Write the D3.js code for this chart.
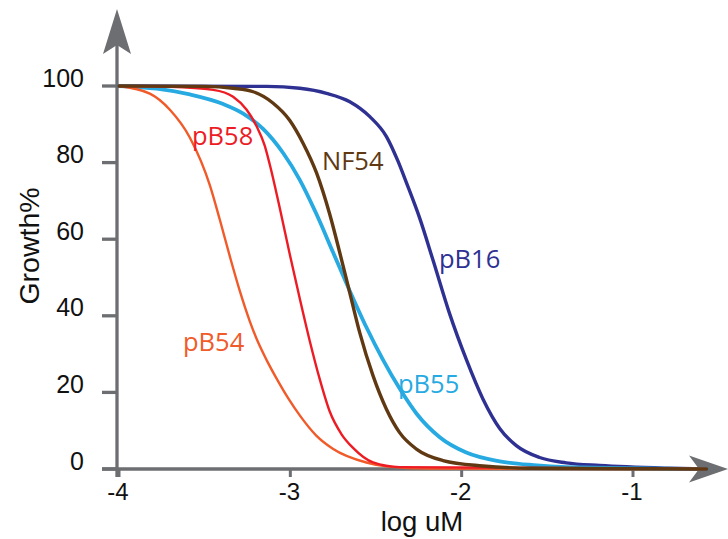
<!DOCTYPE html>
<html>
<head>
<meta charset="utf-8">
<script src="https://cdn.jsdelivr.net/npm/d3@7"></script>
<style>
  html, body { margin: 0; padding: 0; background: #ffffff; }
  svg { display: block; }
</style>
</head>
<body>
<div id="chart"></div>
<script>
// ---- Data ----
const xTicks = [-4, -3, -2, -1];
const yTicks = [0, 20, 40, 60, 80, 100];
const xTitle = "log uM";
const yTitle = "Growth%";

// log uM values / Growth% values per strain
const pB54_x = [-4, -3.82, -3.703, -3.586, -3.469, -3.411, -3.353, -3.295, -3.236, -3.197, -3.139, -3.08, -3.01, -2.945, -2.85, -2.752, -2.556, -2.44, -2.2, -0.57];
const pB54_y = [100, 98, 93.8, 86.5, 74, 65, 55.5, 46.5, 38.5, 34, 28.5, 23.6, 18.3, 14, 8.8, 5.3, 1.7, 0.7, 0.1, 0];

const pB58_x = [-4, -3.7, -3.45, -3.334, -3.255, -3.197, -3.15, -3.12, -3.061, -3.003, -2.945, -2.887, -2.828, -2.77, -2.7, -2.634, -2.517, -2.362, -0.57];
const pB58_y = [100, 99.8, 99, 97.2, 93.8, 89.5, 84.5, 79.5, 68, 56, 44.5, 33.5, 23.4, 15, 9, 5.5, 1.7, 0.5, 0];

const pB55_x = [-4, -3.78, -3.586, -3.392, -3.275, -3.159, -3.042, -2.945, -2.847, -2.75, -2.653, -2.556, -2.459, -2.362, -2.264, -2.128, -1.973, -1.778, -1.58, -1.39, -0.57];
const pB55_y = [100, 99.3, 97.8, 95.3, 92.8, 88.8, 82.5, 75.5, 66.5, 56.5, 46.5, 37, 28.5, 21, 14.5, 8.3, 4.3, 2, 1, 0.5, 0];

const NF54_x = [-4, -3.5, -3.334, -3.217, -3.1, -3.003, -2.925, -2.847, -2.77, -2.711, -2.653, -2.595, -2.517, -2.439, -2.362, -2.264, -2.109, -1.876, -1.6, -0.57];
const NF54_y = [100, 99.9, 99.4, 98.5, 95.5, 91, 85, 77.3, 66.5, 56.4, 46, 35.6, 24.3, 15.6, 9.5, 5.2, 2.2, 0.8, 0.2, 0];

const pB16_x = [-4, -3.139, -2.945, -2.789, -2.653, -2.536, -2.439, -2.371, -2.322, -2.245, -2.167, -2.07, -1.973, -1.876, -1.778, -1.681, -1.545, -1.39, -1.195, -0.8, -0.57];
const pB16_y = [100, 99.9, 99.4, 98.1, 95.9, 92, 86.8, 80.3, 74.7, 65.5, 54.5, 40.5, 28.6, 18.3, 10.6, 6.1, 3, 1.6, 0.9, 0.2, 0];

const seriesNames = ["pB16", "pB55", "pB54", "pB58", "NF54"];
const seriesX = [pB16_x, pB55_x, pB54_x, pB58_x, NF54_x];
const seriesY = [pB16_y, pB55_y, pB54_y, pB58_y, NF54_y];

// ---- Styles ----
const colors = { pB16: "#2e3192", pB55: "#27aae1", pB54: "#f15a29", pB58: "#ed1c24", NF54: "#603913" };
const widths = { pB16: 3.4, pB55: 3.8, pB54: 2.4, pB58: 2.4, NF54: 3.4 };
const labelPos = { pB58: [192, 145], NF54: [322, 170], pB16: [439, 268], pB55: [398, 393], pB54: [183, 351] };
const axisColor = "#6d6e71";

const W = 728, H = 539;
const svg = d3.select("#chart").append("svg").attr("width", W).attr("height", H);

const x = d3.scaleLinear().domain([-4, -1]).range([119, 633]);
const y = d3.scaleLinear().domain([0, 100]).range([469, 86]);

// Axes lines
const axisG = svg.append("g");
axisG.append("line").attr("x1", 102).attr("x2", 702).attr("y1", y(0)).attr("y2", y(0))
  .attr("stroke", axisColor).attr("stroke-width", 3.3);
axisG.append("line").attr("x1", x(-4) - 2).attr("x2", x(-4) - 2).attr("y1", 477).attr("y2", 44)
  .attr("stroke", axisColor).attr("stroke-width", 3.3);

// Arrowheads
const yx = x(-4) - 2;
axisG.append("path")
  .attr("d", `M${yx},9 L${yx + 14},54 L${yx},45 L${yx - 14},54 Z`)
  .attr("fill", axisColor);
const xy = y(0);
axisG.append("path")
  .attr("d", `M728,${xy} L689,${xy - 13.5} L699,${xy} L689,${xy + 13.5} Z`)
  .attr("fill", axisColor);

// Y ticks + labels
yTicks.forEach(t => {
  axisG.append("line").attr("x1", 102).attr("x2", yx).attr("y1", y(t)).attr("y2", y(t))
    .attr("stroke", axisColor).attr("stroke-width", 3.3);
  axisG.append("text").attr("x", 84).attr("y", y(t) + 0.5)
    .attr("text-anchor", "end")
    .attr("font-family", "Liberation Sans, Arial, sans-serif").attr("font-size", 25)
    .attr("fill", "#111").text(t);
});
// X ticks + labels
xTicks.forEach(t => {
  axisG.append("line").attr("x1", x(t)).attr("x2", x(t)).attr("y1", y(0)).attr("y2", y(0) + 8)
    .attr("stroke", axisColor).attr("stroke-width", 3);
  axisG.append("text").attr("x", x(t) - 1).attr("y", 500)
    .attr("text-anchor", "middle")
    .attr("font-family", "Liberation Sans, Arial, sans-serif").attr("font-size", 24)
    .attr("fill", "#111").text(t);
});

// Titles
svg.append("text").attr("x", 422).attr("y", 531).attr("text-anchor", "middle")
  .attr("font-family", "Liberation Sans, Arial, sans-serif").attr("font-size", 27.5)
  .attr("fill", "#111").text(xTitle);
svg.append("text").attr("transform", "translate(39,246) rotate(-90)").attr("text-anchor", "middle")
  .attr("font-family", "Liberation Sans, Arial, sans-serif").attr("font-size", 28.5)
  .attr("fill", "#111").text(yTitle);

// Curves
const line = d3.line().x(d => x(d[0])).y(d => y(d[1])).curve(d3.curveMonotoneX);
const curvesG = svg.append("g");
seriesNames.forEach((name, i) => {
  const pts = seriesX[i].map((v, j) => [v, seriesY[i][j]]);
  curvesG.append("path").datum(pts).attr("d", line)
    .attr("fill", "none").attr("stroke", colors[name]).attr("stroke-width", widths[name])
    .attr("stroke-linecap", "round").attr("stroke-linejoin", "round");
});

// Curve labels
seriesNames.forEach(name => {
  svg.append("text").attr("x", labelPos[name][0]).attr("y", labelPos[name][1])
    .attr("font-family", "Open Sans, Noto Sans, sans-serif").attr("font-size", 25.5)
    .attr("fill", colors[name]).text(name);
});
</script>
</body>
</html>
